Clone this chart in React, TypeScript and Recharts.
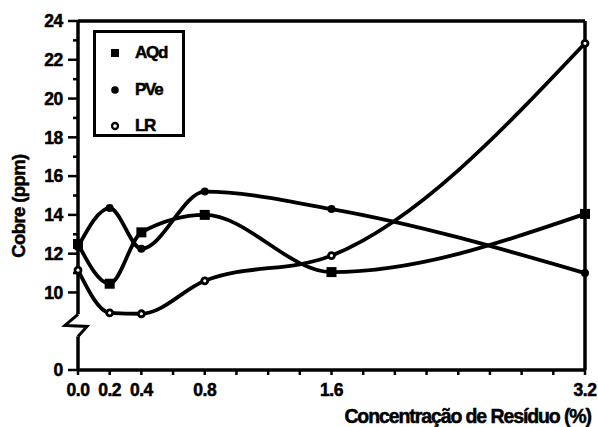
import { Legend, Line, LineChart, ReferenceDot, ReferenceLine, XAxis, YAxis } from 'recharts'

// concentração de resíduo (%) and cobre (ppm) per treatment
const CONCENTRATIONS = [0, 0.2, 0.4, 0.8, 1.6, 3.2]
const AQD = [12.5, 10.45, 13.1, 14.0, 11.05, 14.05]
const PVE = [12.35, 14.35, 12.25, 15.2, 14.3, 11.0]
const LR = [11.15, 8.95, 8.9, 10.6, 11.9, 22.85]

const SERIES_ORDER = ['aqd', 'pve', 'lr']
const X_TICKS = [0, 0.2, 0.4, 0.6, 0.8, 1.0, 1.2, 1.4, 1.6, 1.8, 2.0, 2.2, 2.4, 2.6, 2.8, 3.0, 3.2]
const X_LABELS = [0, 0.2, 0.4, 0.8, 1.6, 3.2]
const Y_TICKS = [0, 10, 11, 12, 13, 14, 15, 16, 17, 18, 19, 20, 21, 22, 23, 24]
const Y_LABELS = [0, 10, 12, 14, 16, 18, 20, 22, 24]

const FONT = '"Liberation Sans", Arial, sans-serif'
const INK = '#000'
// scanned print looks heavier than plain bold
const HEAVY = { stroke: INK, strokeWidth: 0.5 }

// broken y axis: everything from BREAK_START up is linear, 0..BREAK_START squeezed down to AXIS_FLOOR
const AXIS_FLOOR = 6
const BREAK_START = 8
const BREAK_MID = 8.3

function toAxis(v: number) {
  return v >= BREAK_START ? v : AXIS_FLOOR + (v / BREAK_START) * (BREAK_START - AXIS_FLOOR)
}

function fromAxis(a: number) {
  return a >= BREAK_START ? a : ((a - AXIS_FLOOR) / (BREAK_START - AXIS_FLOOR)) * BREAK_START
}

const data = CONCENTRATIONS.map((x, i) => ({
  x,
  aqd: toAxis(AQD[i]),
  pve: toAxis(PVE[i]),
  lr: toAxis(LR[i]),
}))

function YTick({ x, y, payload }: any) {
  const v = Math.round(fromAxis(payload.value))
  const axisX = x + 15
  const major = Y_LABELS.includes(v)
  return (
    <g>
      <line x1={major ? axisX - 10 : axisX - 5} x2={axisX} y1={y} y2={y} stroke={INK} strokeWidth={2.5} />
      {major && (
        <text x={x} y={y} dy="0.36em" textAnchor="end" fontFamily={FONT} fontWeight={700} fontSize={17.5} letterSpacing={-0.3} fill={INK} {...HEAVY}>
          {v}
        </text>
      )}
    </g>
  )
}

function XTick({ x, y, payload }: any) {
  const v = payload.value
  if (!X_LABELS.some((l) => Math.abs(l - v) < 1e-6)) return <g />
  return (
    <text x={x} y={y} dy="0.71em" textAnchor="middle" fontFamily={FONT} fontWeight={700} fontSize={17.5} letterSpacing={-0.5} fill={INK} {...HEAVY}>
      {v.toFixed(1)}
    </text>
  )
}

function squareDot(props: any) {
  const { cx, cy, index } = props
  return <rect key={`aqd-${index}`} x={cx - 5} y={cy - 5} width={10} height={10} fill={INK} />
}

function filledDot(props: any) {
  const { cx, cy, index } = props
  return <circle key={`pve-${index}`} cx={cx} cy={cy} r={4} fill={INK} />
}

function openDot(props: any) {
  const { cx, cy, index } = props
  return <circle key={`lr-${index}`} cx={cx} cy={cy} r={3} fill="#fff" stroke={INK} strokeWidth={2.8} />
}

function ZigZag({ cx, cy }: any) {
  return (
    <path
      d={`M${cx},${cy - 11} L${cx - 13},${cy} L${cx + 9},${cy + 1} L${cx},${cy + 11}`}
      fill="none"
      stroke={INK}
      strokeWidth={3}
      strokeLinejoin="miter"
    />
  )
}

function LegendMarker({ kind }: { kind: string }) {
  return (
    <svg width={10} height={10} style={{ display: 'block' }}>
      {kind === 'aqd' && <rect x={1} y={1} width={8} height={8} fill={INK} />}
      {kind === 'pve' && <circle cx={5} cy={5} r={3.8} fill={INK} />}
      {kind === 'lr' && <circle cx={5} cy={5} r={3} fill="#fff" stroke={INK} strokeWidth={2.3} />}
    </svg>
  )
}

function LegendBox({ payload }: any) {
  const items = [...(payload ?? [])].sort(
    (a: any, b: any) => SERIES_ORDER.indexOf(a.dataKey) - SERIES_ORDER.indexOf(b.dataKey),
  )
  return (
    <div
      style={{
        border: `3px solid ${INK}`,
        boxSizing: 'border-box',
        width: 92,
        height: 107,
        background: '#fff',
        paddingTop: 2,
      }}
    >
      {items.map((entry: any) => (
        <div key={entry.value} style={{ display: 'flex', alignItems: 'center', height: 36.5 }}>
          <div style={{ width: 11, marginLeft: 14 }}>
            <LegendMarker kind={entry.dataKey} />
          </div>
          <span
            style={{
              marginLeft: 14,
              fontFamily: FONT,
              fontWeight: 700,
              fontSize: 17,
              letterSpacing: -1.3,
              color: INK,
              WebkitTextStroke: '0.5px #000',
            }}
          >
            {entry.value}
          </span>
        </div>
      ))}
    </div>
  )
}

export default function App() {
  return (
    <div style={{ position: 'absolute', left: 0, top: 0, width: 598, height: 427, background: '#fff' }}>
      <LineChart width={598} height={427} data={data} margin={{ top: 21, right: 13, bottom: 0, left: 0 }}>
        <XAxis
          dataKey="x"
          type="number"
          domain={[0, 3.2]}
          ticks={X_TICKS}
          interval={0}
          height={57}
          axisLine={{ stroke: INK, strokeWidth: 3.5 }}
          tickLine={{ stroke: INK, strokeWidth: 2.5 }}
          tickSize={5}
          tickMargin={9}
          tick={<XTick />}
          label={{
            value: 'Concentração de Resíduo (%)',
            content: ({ viewBox, value }: any) => (
              <text
                x={viewBox.x + viewBox.width + 6}
                y={viewBox.y + 53}
                textAnchor="end"
                fontFamily={FONT}
                fontWeight={700}
                fontSize={19.5}
                letterSpacing={-1.1}
                fill={INK}
                {...HEAVY}
              >
                {value}
              </text>
            ),
          }}
        />
        <YAxis
          type="number"
          domain={[AXIS_FLOOR, 24]}
          ticks={Y_TICKS.map(toAxis)}
          interval={0}
          width={78}
          axisLine={false}
          tickLine={false}
          tickSize={10}
          tickMargin={5}
          tick={<YTick />}
          label={{
            value: 'Cobre (ppm)',
            content: ({ viewBox, value }: any) => (
              <text
                x={viewBox.x + 18}
                y={viewBox.y + 185}
                transform={`rotate(-90, ${viewBox.x + 18}, ${viewBox.y + 185})`}
                textAnchor="middle"
                dominantBaseline="central"
                fontFamily={FONT}
                fontWeight={700}
                fontSize={18.5}
                letterSpacing={-0.6}
                fill={INK}
                {...HEAVY}
              >
                {value}
              </text>
            ),
          }}
        />
        <ReferenceLine y={24} stroke={INK} strokeWidth={3.5} />
        <ReferenceLine x={3.2} stroke={INK} strokeWidth={3.5} />
        <ReferenceLine segment={[{ x: 0, y: 24 }, { x: 0, y: BREAK_MID + 0.57 }]} stroke={INK} strokeWidth={3.5} />
        <ReferenceLine segment={[{ x: 0, y: BREAK_MID - 0.57 }, { x: 0, y: AXIS_FLOOR }]} stroke={INK} strokeWidth={3.5} />
        <ReferenceDot x={0} y={BREAK_MID} r={0} shape={<ZigZag />} />
        <Line
          dataKey="aqd"
          name="AQd"
          type="monotone"
          stroke={INK}
          strokeWidth={3.8}
          dot={squareDot}
          activeDot={false}
          isAnimationActive={false}
        />
        <Line
          dataKey="pve"
          name="PVe"
          type="monotone"
          stroke={INK}
          strokeWidth={3.8}
          dot={filledDot}
          activeDot={false}
          isAnimationActive={false}
        />
        <Line
          dataKey="lr"
          name="LR"
          type="monotone"
          stroke={INK}
          strokeWidth={3.8}
          dot={openDot}
          activeDot={false}
          isAnimationActive={false}
        />
        <Legend
          layout="vertical"
          align="center"
          verticalAlign="middle"
          content={<LegendBox />}
          wrapperStyle={{ position: 'absolute', left: 93, top: 30, width: 92, height: 107 }}
        />
      </LineChart>
    </div>
  )
}
